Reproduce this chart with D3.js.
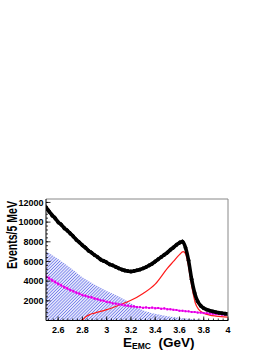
<!DOCTYPE html>
<html><head><meta charset="utf-8">
<script src="https://cdn.jsdelivr.net/npm/d3@7"></script>
<style>body{margin:0;background:#fff}svg{display:block}</style>
</head><body>
<script>
// ---- data ----
const dataE = [2.500,2.525,2.550,2.575,2.600,2.625,2.650,2.675,2.700,2.725,2.750,2.775,2.800,2.825,2.850,2.875,2.900,2.925,2.950,2.975,3.000,3.025,3.050,3.075,3.100,3.125,3.150,3.175,3.200,3.225,3.250,3.275,3.300,3.325,3.350,3.375,3.400,3.425,3.450,3.475,3.500,3.525,3.550,3.575,3.600,3.625,3.650,3.675,3.700,3.725,3.750,3.775,3.800,3.825,3.850,3.875,3.900,3.925,3.950,3.975,4.000];
const dataTotal = [11500,11100,10700,10400,10000,9750,9400,9150,8850,8550,8200,7950,7650,7400,7100,6900,6650,6450,6200,6050,5900,5700,5600,5450,5300,5180,5080,5020,4980,5030,5100,5180,5300,5430,5600,5780,6000,6230,6450,6680,6900,7180,7420,7680,7900,8020,7400,6100,4200,2800,1950,1500,1250,1100,1000,920,850,790,740,700,660];
const dataMagenta = [4450,4300,4080,3920,3720,3580,3380,3270,3080,2980,2830,2720,2580,2520,2390,2360,2230,2170,2040,2010,1890,1860,1740,1720,1640,1610,1540,1510,1440,1430,1370,1360,1290,1330,1270,1310,1240,1270,1190,1230,1140,1140,1090,1070,990,990,940,930,860,860,810,800,750,750,690,690,640,640,590,590,560];
const hatchE = [2.5,2.6,2.7,2.8,2.9,3.0,3.1,3.2,3.3,3.4,3.5,3.6,3.7,3.8,3.9,4.0];
const hatchV = [7050,6250,5350,4400,3650,3000,2450,1750,1050,680,430,270,150,70,30,10];
const redE = [2.5,2.6,2.7,2.78,2.8,2.83,2.86,2.9,3.0,3.1,3.2,3.3,3.4,3.5,3.55,3.6,3.63,3.65,3.67,3.69,3.71,3.73,3.76,3.8,3.85,3.9,4.0];
const redV = [0,0,0,0,60,400,600,750,1100,1550,2050,2750,3700,5300,6000,6700,7000,6800,5800,4300,2900,1800,1100,750,550,450,350];
const xTicks = [2.6,2.8,3.0,3.2,3.4,3.6,3.8,4.0];
const xTickLabels = ["2.6","2.8","3","3.2","3.4","3.6","3.8","4"];
const yTicks = [2000,4000,6000,8000,10000,12000];

// ---- layout ----
const W=273,H=353, L=46, R=228, T=199, B=320.5;
const svg=d3.select("body").append("svg").attr("width",W).attr("height",H);
const x=d3.scaleLinear().domain([2.5,4]).range([L,R]);
const y=d3.scaleLinear().domain([0,12350]).range([B,T]);

const defs=svg.append("defs");
const pat=defs.append("pattern").attr("id","hatch").attr("patternUnits","userSpaceOnUse")
  .attr("width",2.2).attr("height",2.2).attr("patternTransform","rotate(45)");
pat.append("rect").attr("width",2.2).attr("height",2.2).attr("fill","#e4e6fb");
pat.append("line").attr("x1",0).attr("y1",0).attr("x2",0).attr("y2",2.2)
  .attr("stroke","#4f5ae6").attr("stroke-width",1.1);
defs.append("clipPath").attr("id","clip").append("rect").attr("x",L).attr("y",T).attr("width",R-L).attr("height",B-T);

const g=svg.append("g").attr("clip-path","url(#clip)");

// hatched background
const hatchData=hatchE.map((e,i)=>[e,hatchV[i]]);
g.append("path").datum(hatchData)
  .attr("d",d3.area().x(d=>x(d[0])).y0(y(0)).y1(d=>y(d[1])).curve(d3.curveMonotoneX))
  .attr("fill","url(#hatch)");

// red curve
const redData=redE.map((e,i)=>[e,redV[i]]);
g.append("path").datum(redData)
  .attr("d",d3.line().x(d=>x(d[0])).y(d=>y(d[1])).curve(d3.curveMonotoneX))
  .attr("fill","none").attr("stroke","#ff1a1a").attr("stroke-width",1.2);

// magenta points
const magData=dataE.map((e,i)=>[e,dataMagenta[i]]);
g.append("path").datum(magData)
  .attr("d",d3.line().x(d=>x(d[0])).y(d=>y(d[1])))
  .attr("fill","none").attr("stroke","#ff00ff").attr("stroke-width",1.4).attr("opacity",0.8);
g.selectAll(".mbar").data(magData).enter().append("line")
  .attr("x1",d=>x(d[0])).attr("x2",d=>x(d[0]))
  .attr("y1",d=>y(d[1]+Math.sqrt(d[1])*3)).attr("y2",d=>y(d[1]-Math.sqrt(d[1])*3))
  .attr("stroke","#ff00ff").attr("stroke-width",1);
g.selectAll(".mpt").data(magData).enter().append("rect")
  .attr("x",d=>x(d[0])-1).attr("y",d=>y(d[1])-1).attr("width",2).attr("height",2).attr("fill","#e000e0");

// black total data
const totData=dataE.map((e,i)=>[e,dataTotal[i]]);
g.append("path").datum(totData)
  .attr("d",d3.line().x(d=>x(d[0])).y(d=>y(d[1])).curve(d3.curveMonotoneX))
  .attr("fill","none").attr("stroke","#000").attr("stroke-width",3.6);
g.selectAll(".bbar").data(totData).enter().append("line")
  .attr("x1",d=>x(d[0])).attr("x2",d=>x(d[0]))
  .attr("y1",d=>y(d[1]+Math.sqrt(d[1])*2.5)).attr("y2",d=>y(d[1]-Math.sqrt(d[1])*2.5))
  .attr("stroke","#000").attr("stroke-width",1.2);
g.selectAll(".bpt").data(totData).enter().append("circle")
  .attr("cx",d=>x(d[0])).attr("cy",d=>y(d[1])).attr("r",1.9).attr("fill","#000");

// frame
svg.append("line").attr("x1",L).attr("x2",R).attr("y1",T).attr("y2",T).attr("stroke","#888");
svg.append("line").attr("x1",R).attr("x2",R).attr("y1",T).attr("y2",B).attr("stroke","#888");

// axes
const xAxisG=svg.append("g");
xAxisG.append("line").attr("x1",L).attr("x2",R).attr("y1",B).attr("y2",B).attr("stroke","#000");
const xMinor=d3.range(2.52,4.0001,0.04).filter(v=>v<=4.0001);
xAxisG.selectAll(".xm").data(xMinor).enter().append("line")
  .attr("x1",d=>x(d)).attr("x2",d=>x(d)).attr("y1",B).attr("y2",B-2).attr("stroke","#000").attr("stroke-width",0.8);
xAxisG.selectAll(".xM").data(xTicks).enter().append("line")
  .attr("x1",d=>x(d)).attr("x2",d=>x(d)).attr("y1",B).attr("y2",B-4).attr("stroke","#000").attr("stroke-width",0.8);
xAxisG.selectAll(".xl").data(xTicks).enter().append("text")
  .attr("x",d=>x(d)).attr("y",333).attr("text-anchor","middle")
  .attr("font-family","Liberation Sans, Arial, sans-serif").attr("font-weight","bold").attr("font-size",9)
  .text((d,i)=>xTickLabels[i]);

const yAxisG=svg.append("g");
yAxisG.append("line").attr("x1",L).attr("x2",L).attr("y1",T).attr("y2",B).attr("stroke","#000");
const yMinor=d3.range(400,12350,400);
yAxisG.selectAll(".ym").data(yMinor).enter().append("line")
  .attr("x1",L).attr("x2",L+2).attr("y1",d=>y(d)).attr("y2",d=>y(d)).attr("stroke","#000").attr("stroke-width",0.8);
yAxisG.selectAll(".yM").data(yTicks).enter().append("line")
  .attr("x1",L).attr("x2",L+4.5).attr("y1",d=>y(d)).attr("y2",d=>y(d)).attr("stroke","#000").attr("stroke-width",0.8);
yAxisG.selectAll(".yl").data(yTicks).enter().append("text")
  .attr("x",43.5).attr("y",d=>y(d)+3.2).attr("text-anchor","end")
  .attr("font-family","Liberation Sans, Arial, sans-serif").attr("font-weight","bold").attr("font-size",9)
  .text(d=>d);

// titles
svg.append("text").attr("transform","translate(16.5,201) rotate(-90)").attr("text-anchor","end")
  .attr("font-family","Liberation Sans, Arial, sans-serif").attr("font-weight","bold").attr("font-size",14.5)
  .attr("textLength",68).attr("lengthAdjust","spacingAndGlyphs")
  .text("Events/5 MeV");
const xt=svg.append("text").attr("x",123).attr("y",346.5)
  .attr("font-family","Liberation Sans, Arial, sans-serif").attr("font-weight","bold").attr("font-size",13.5);
xt.append("tspan").text("E");
xt.append("tspan").attr("font-size",8.5).attr("dy",2.5).text("EMC");
xt.append("tspan").attr("dy",-2.5).text("\u00a0\u00a0(GeV)");
</script>
</body></html>
